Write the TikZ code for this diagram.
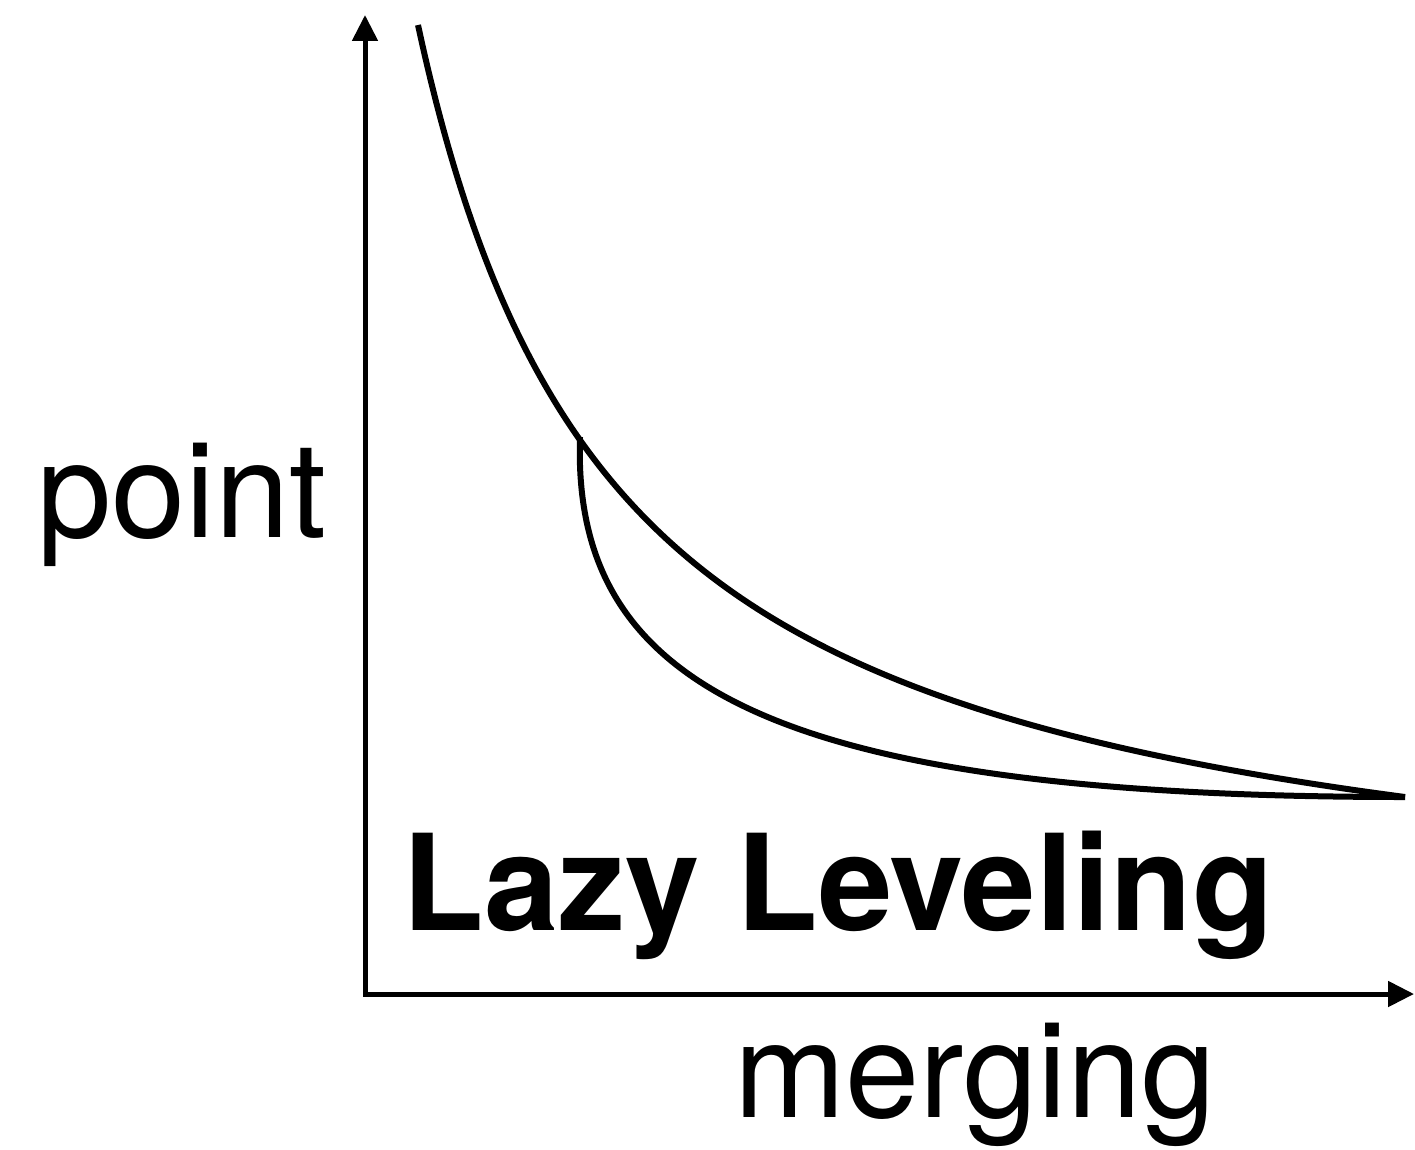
\documentclass[tikz,border=0pt]{standalone}
\usepackage{fontspec}
\setmainfont{TeX Gyre Heros}
\usetikzlibrary{arrows.meta}
\tikzset{
  curveline/.style={line width=0.12cm, black},
  axisline/.style={line width=0.1cm, black, {Triangle[length=0.52cm,width=0.5cm]}-{Triangle[length=0.52cm,width=0.5cm]}},
  lighttext/.style={inner sep=0pt, anchor=base, font=\fontsize{76pt}{80pt}\selectfont},
  boldtext/.style={inner sep=0pt, anchor=base, font=\fontsize{76pt}{80pt}\selectfont\bfseries}
}
\begin{document}
\begin{tikzpicture}[x=0.02cm, y=-0.02cm]
\useasboundingbox (0,0) rectangle (1415,1149);
% axes
\coordinate (ytip) at (365,15);
\coordinate (origin) at (365,994);
\coordinate (xtip) at (1414,994);
\draw[axisline] (ytip) -- (origin) -- (xtip);
% upper curve (hyperbola)
\coordinate (ustart) at (418,25);
\coordinate (meet) at (580,437);
\coordinate (uend) at (1405,797);
\draw[curveline] plot[domain=418:1405, samples=200, smooth] (\x, {953.9 - 1863.34/((\x-217.4)/100)});
% lower curve
\draw[curveline] (meet) .. controls (572,680) and (760,797) .. (uend);
% labels
\node[lighttext] (ylabel) at (182,537) {point};
\node[lighttext] (xlabel) at (975,1117) {merging};
\node[boldtext] (title) at (838,930) {Lazy Leveling};
\end{tikzpicture}
\end{document}
